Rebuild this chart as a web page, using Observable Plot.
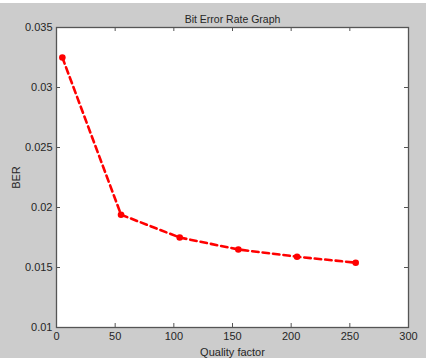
<!DOCTYPE html>
<html>
<head>
<meta charset="utf-8">
<script src="https://cdn.jsdelivr.net/npm/d3@7"></script>
<script src="https://cdn.jsdelivr.net/npm/@observablehq/plot@0.6"></script>
<style>
  html, body { margin: 0; padding: 0; background: #cccccc; width: 426px; height: 358px; overflow: hidden; }
  #strip { position: absolute; left: 0; top: 0; width: 426px; height: 3px; background: #ffffff; }
  #chart { position: absolute; left: 0; top: 0; }
  svg { font-family: "Liberation Sans", Arial, sans-serif; }
</style>
</head>
<body>
<div id="strip"></div>
<div id="chart"></div>
<script>
const qualityFactor = [5, 55, 105, 155, 205, 255];
const ber = [0.0325, 0.0194, 0.0175, 0.0165, 0.0159, 0.0154];
const xTicks = [0, 50, 100, 150, 200, 250, 300];
const yTicks = [0.01, 0.015, 0.02, 0.025, 0.03, 0.035];
const yTickLabels = ["0.01", "0.015", "0.02", "0.025", "0.03", "0.035"];

const data = qualityFactor.map((q, i) => ({q, ber: ber[i]}));

const W = 426, H = 358;
const mL = 56, mR = 18, mT = 27, mB = 31;
const innerW = W - mL - mR, innerH = H - mT - mB;
const tl = 4;
const axisColor = "#555555";

const chart = Plot.plot({
  width: W,
  height: H,
  marginLeft: mL,
  marginRight: mR,
  marginTop: mT,
  marginBottom: mB,
  style: {background: "transparent", fontSize: "11px", color: "#262626", fontFamily: "'Liberation Sans', Arial, sans-serif"},
  x: {domain: [0, 300]},
  y: {domain: [0.01, 0.035]},
  marks: [
    Plot.frame({fill: "white", stroke: "none"}),
    Plot.tickX(xTicks, {x: d => d, insetTop: innerH - tl, stroke: axisColor, strokeWidth: 1}),
    Plot.tickX(xTicks, {x: d => d, insetBottom: innerH - tl, stroke: axisColor, strokeWidth: 1}),
    Plot.tickY(yTicks, {y: d => d, insetRight: innerW - tl, stroke: axisColor, strokeWidth: 1}),
    Plot.tickY(yTicks, {y: d => d, insetLeft: innerW - tl, stroke: axisColor, strokeWidth: 1}),
    Plot.frame({stroke: axisColor, strokeWidth: 1.3}),
    Plot.axisX({ticks: xTicks, tickSize: 0, tickPadding: 5, label: "Quality factor", labelAnchor: "center", labelArrow: "none", labelOffset: 28, fill: "#262626"}),
    Plot.axisY({ticks: yTicks, tickFormat: (d, i) => yTickLabels[i], tickSize: 0, tickPadding: 4, label: "BER", labelAnchor: "center", labelArrow: "none", labelOffset: 44, fill: "#262626"}),
    Plot.line(data, {x: "q", y: "ber", stroke: "#ff0000", strokeWidth: 2.6, strokeDasharray: "6.5,4"}),
    Plot.dot(data, {x: "q", y: "ber", r: 3.3, fill: "#ff0000", stroke: "none"}),
    Plot.text(["Bit Error Rate Graph"], {frameAnchor: "top", dy: -12, fill: "#262626", fontSize: 10.5})
  ]
});
document.getElementById("chart").appendChild(chart);
</script>
</body>
</html>
